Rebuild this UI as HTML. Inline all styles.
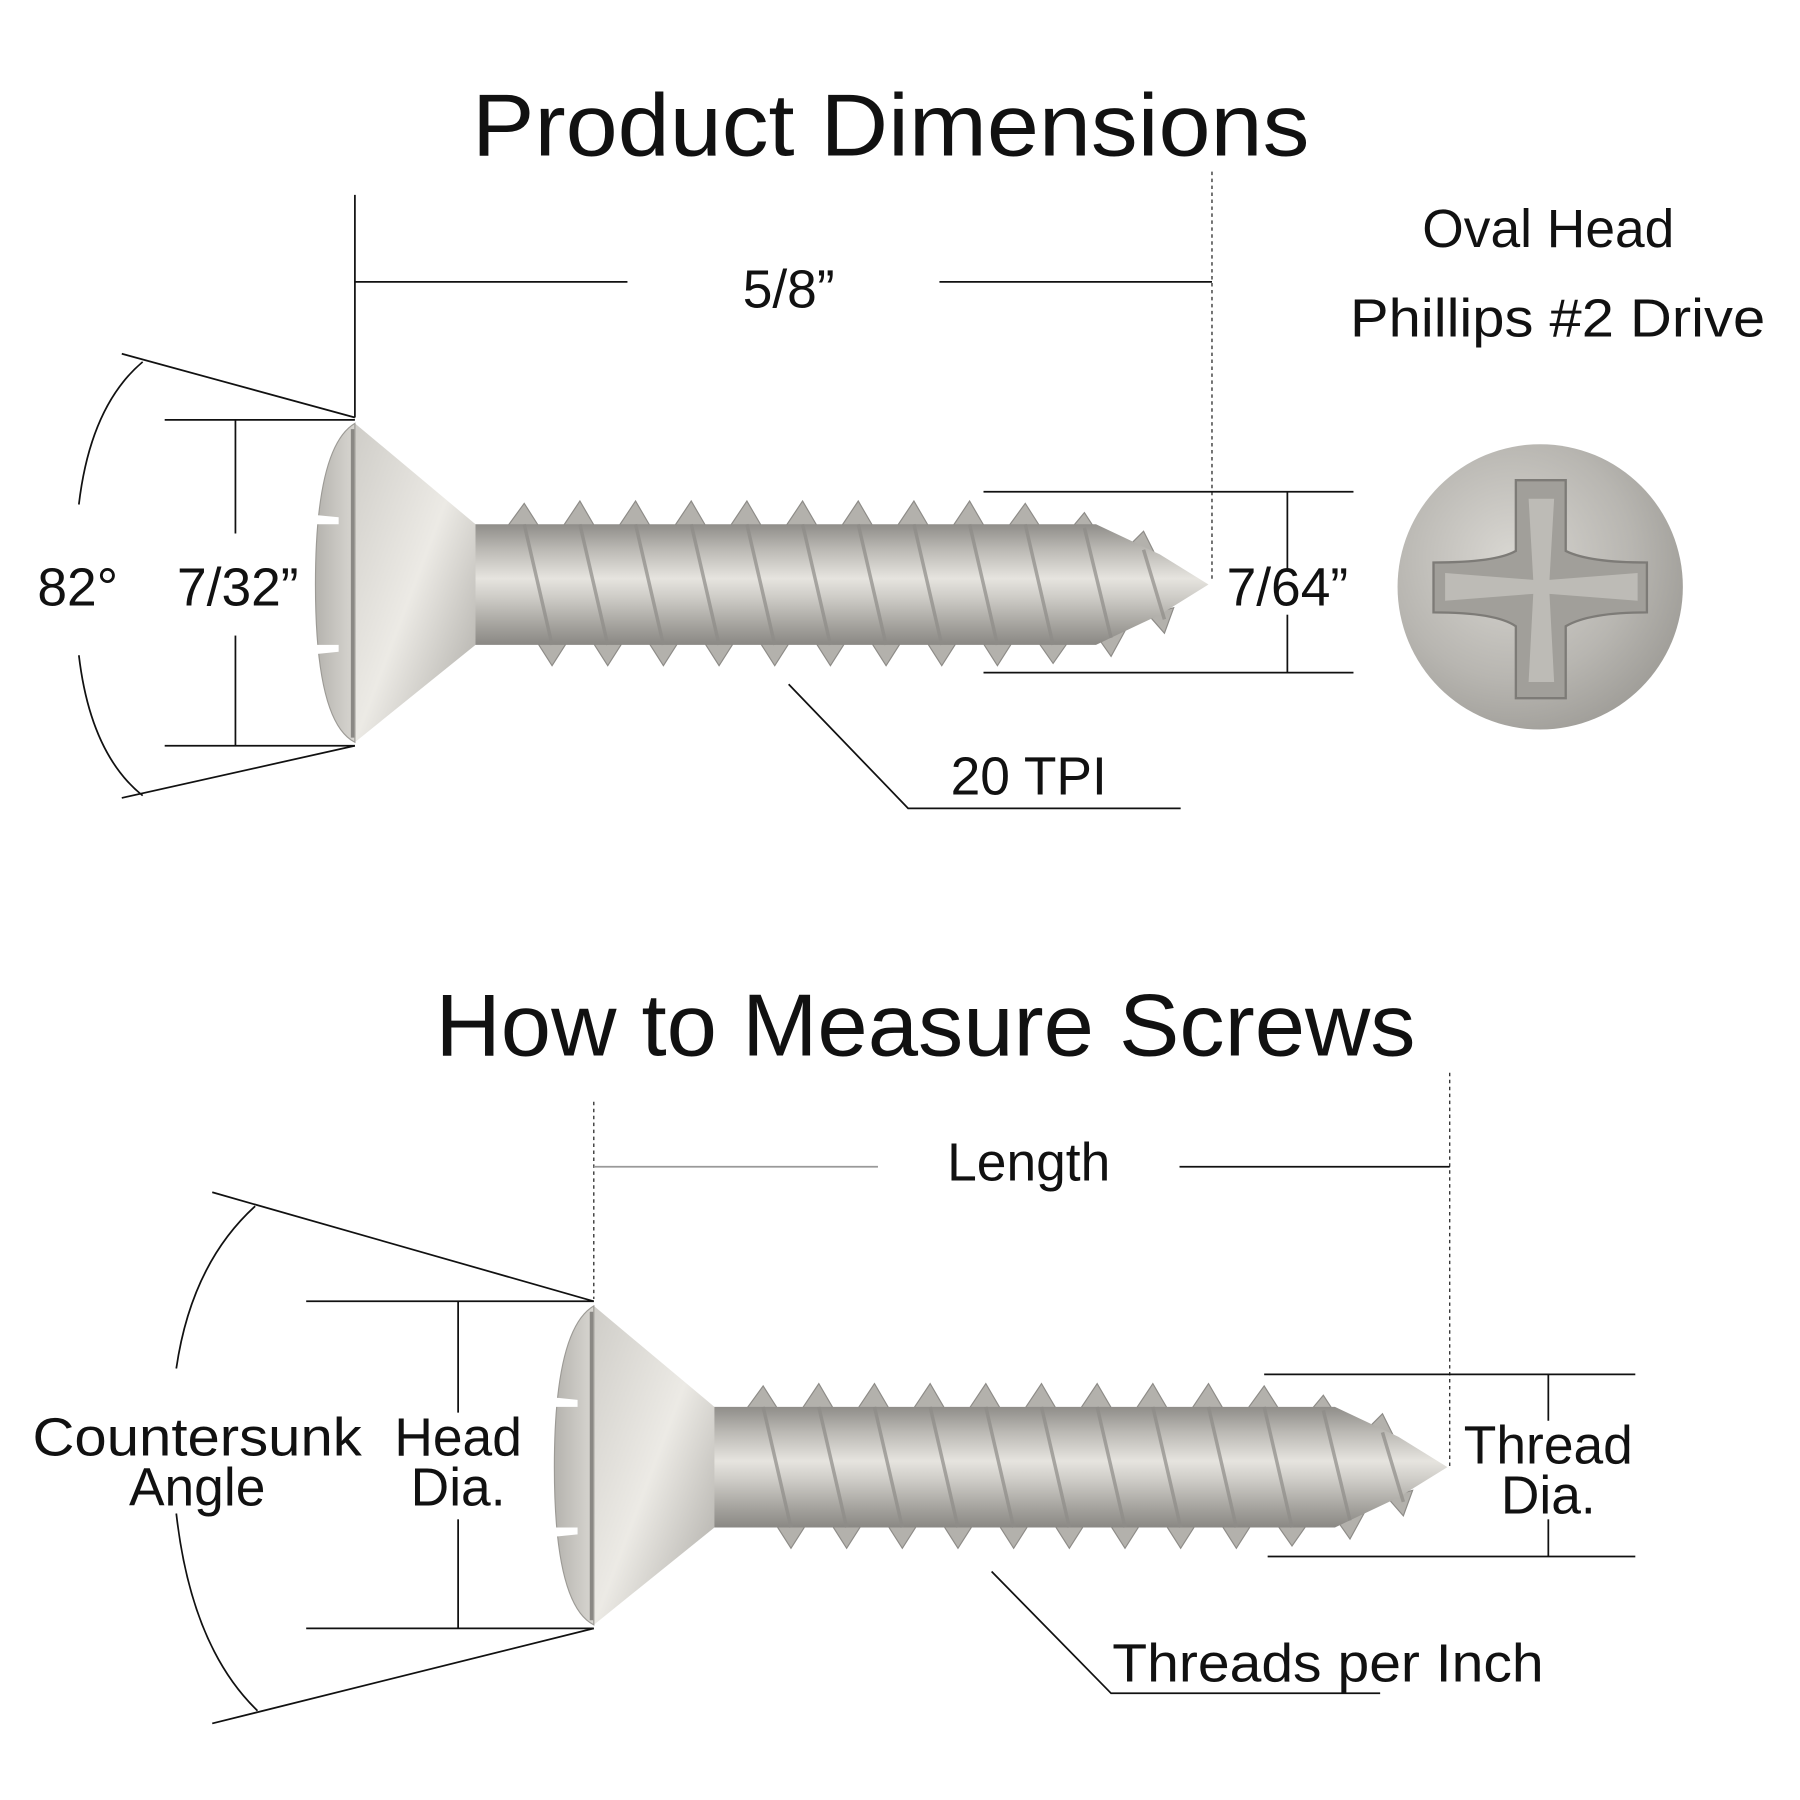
<!DOCTYPE html>
<html><head><meta charset="utf-8"><style>
html,body{margin:0;padding:0;background:#fff;width:1800px;height:1800px;overflow:hidden}
svg{display:block}
text{font-family:"Liberation Sans","DejaVu Sans",sans-serif;fill:#111;text-anchor:middle}
</style></head><body>
<svg width="1800" height="1800" viewBox="0 0 1552 1552" xmlns="http://www.w3.org/2000/svg">
<defs>
<linearGradient id="shank" x1="0" y1="0" x2="0" y2="1">
<stop offset="0" stop-color="#8f8d89"/><stop offset="0.2" stop-color="#b9b7b2"/><stop offset="0.45" stop-color="#e6e4df"/><stop offset="0.6" stop-color="#cfcdc8"/><stop offset="0.85" stop-color="#a3a19c"/><stop offset="1" stop-color="#8a8884"/>
</linearGradient>
<linearGradient id="cone" x1="0" y1="0" x2="1" y2="1">
<stop offset="0" stop-color="#cfcdc8"/><stop offset="0.5" stop-color="#eceae5"/><stop offset="1" stop-color="#a9a7a2"/>
</linearGradient>
<linearGradient id="face" x1="0" y1="0" x2="1" y2="0">
<stop offset="0" stop-color="#b5b3ae"/><stop offset="1" stop-color="#d8d6d1"/>
</linearGradient>
<radialGradient id="disc" cx="0.4" cy="0.4" r="0.7">
<stop offset="0" stop-color="#d9d7d2"/><stop offset="0.6" stop-color="#b8b6b1"/><stop offset="1" stop-color="#9a9893"/>
</radialGradient>
<g id="screw">
<g fill="#b3b1ac" stroke="#8d8b87" stroke-width="1">
<polygon points="436,456 452,434 466,456"/><polygon points="484,456 500,432 514,456"/><polygon points="532,456 548,432 562,456"/><polygon points="580,456 596,432 610,456"/><polygon points="628,456 644,432 658,456"/><polygon points="676,456 692,432 706,456"/><polygon points="724,456 740,432 754,456"/><polygon points="772,456 788,432 802,456"/><polygon points="820,456 836,432 850,456"/><polygon points="868,456 884,434 898,456"/><polygon points="920,460 935,442 948,462"/><polygon points="972,472 986,458 996,478"/>
<polygon points="462,552 476,574 490,552"/><polygon points="510,552 524,574 538,552"/><polygon points="558,552 572,574 586,552"/><polygon points="606,552 620,574 634,552"/><polygon points="654,552 668,574 682,552"/><polygon points="702,552 716,574 730,552"/><polygon points="750,552 764,574 778,552"/><polygon points="798,552 812,574 826,552"/><polygon points="846,552 860,574 874,552"/><polygon points="894,552 908,572 922,552"/><polygon points="944,546 958,566 970,544"/><polygon points="990,530 1004,546 1012,524"/>
</g>
<path d="M405,452 L945,452 L1000,478 L1042,504 L1000,530 L945,556 L405,556 Z" fill="url(#shank)"/>
<g stroke="#8e8c88" stroke-width="3" fill="none" opacity="0.7">
<path d="M452,452 L476,556"/><path d="M500,452 L524,556"/><path d="M548,452 L572,556"/><path d="M596,452 L620,556"/><path d="M644,452 L668,556"/><path d="M692,452 L716,556"/><path d="M740,452 L764,556"/><path d="M788,452 L812,556"/><path d="M836,452 L860,556"/><path d="M884,452 L908,556"/><path d="M935,455 L958,550"/><path d="M986,474 L1004,534"/>
</g>
<path d="M306,365 L410,452 L410,556 L306,640 Z" fill="url(#cone)"/>
<path d="M306,365 Q272,385 272,504 Q272,623 306,640 Z" fill="url(#face)" stroke="#9c9a95" stroke-width="1"/>
<line x1="304" y1="370" x2="304" y2="636" stroke="#8a8884" stroke-width="3"/>
<path d="M272,444 L292,446 L292,452 L272,452 Z M272,556 L292,556 L292,562 L272,564 Z" fill="#fff"/>
</g>
</defs>

<text x="768" y="134" font-size="76" textLength="722" lengthAdjust="spacingAndGlyphs">Product Dimensions</text>
<g stroke="#111" stroke-width="1.5" fill="none">
<line x1="306" y1="168" x2="306" y2="360"/>
<line x1="306" y1="243" x2="541" y2="243"/>
<line x1="810" y1="243" x2="1045" y2="243"/>
<line x1="1045" y1="148" x2="1045" y2="500" stroke-dasharray="3,3" stroke-width="1"/>
<line x1="105" y1="305" x2="306" y2="360"/>
<line x1="105" y1="688" x2="306" y2="643"/>
<path d="M123,312 Q78,350 68,435"/>
<path d="M68,565 Q78,650 123,686"/>
<line x1="142" y1="362" x2="306" y2="362"/>
<line x1="142" y1="643" x2="306" y2="643"/>
<line x1="203" y1="362" x2="203" y2="460"/>
<line x1="203" y1="548" x2="203" y2="643"/>
<line x1="848" y1="424" x2="1167" y2="424"/>
<line x1="848" y1="580" x2="1167" y2="580"/>
<line x1="1110" y1="424" x2="1110" y2="490"/>
<line x1="1110" y1="530" x2="1110" y2="580"/>
<polyline points="680,590 783,697 1018,697"/>
</g>
<text x="680" y="265" font-size="46">5/8”</text>
<text x="1335" y="213" font-size="46">Oval Head</text>
<text x="1343" y="290" font-size="46" textLength="358" lengthAdjust="spacingAndGlyphs">Phillips #2 Drive</text>
<text x="67" y="522" font-size="46">82°</text>
<text x="205" y="522" font-size="46">7/32”</text>
<text x="1110" y="522" font-size="46">7/64”</text>
<text x="887" y="685" font-size="46">20 TPI</text>
<use href="#screw"/>
<circle cx="1328" cy="506" r="123" fill="url(#disc)"/>
<path d="M1307,414 L1350,414 L1350,475 Q1370,485 1420,485 L1420,528 Q1370,528 1350,540 L1350,602 L1307,602 L1307,540 Q1290,528 1236,528 L1236,485 Q1290,485 1307,475 Z" fill="#a19f9a" stroke="#7d7b77" stroke-width="2"/>
<path d="M1318,430 L1340,430 L1336,500 L1412,494 L1412,518 L1336,512 L1340,588 L1318,588 L1322,512 L1246,518 L1246,494 L1322,500 Z" fill="#c9c7c2" opacity="0.7"/>

<text x="798" y="910" font-size="76" textLength="845" lengthAdjust="spacingAndGlyphs">How to Measure Screws</text>
<g stroke="#111" stroke-width="1.5" fill="none">
<line x1="512" y1="950" x2="512" y2="1120" stroke-dasharray="3,3" stroke-width="1"/>
<line x1="1250" y1="925" x2="1250" y2="1265" stroke-dasharray="3,3" stroke-width="1"/>
<line x1="512" y1="1006" x2="757" y2="1006" stroke="#999"/>
<line x1="1017" y1="1006" x2="1250" y2="1006"/>
<line x1="183" y1="1028" x2="512" y2="1122"/>
<line x1="183" y1="1486" x2="512" y2="1404"/>
<path d="M220,1040 Q165,1090 152,1180"/>
<path d="M152,1305 Q165,1420 222,1475"/>
<line x1="264" y1="1122" x2="512" y2="1122"/>
<line x1="264" y1="1404" x2="512" y2="1404"/>
<line x1="395" y1="1122" x2="395" y2="1218"/>
<line x1="395" y1="1310" x2="395" y2="1404"/>
<line x1="1090" y1="1185" x2="1410" y2="1185"/>
<line x1="1093" y1="1342" x2="1410" y2="1342"/>
<line x1="1335" y1="1185" x2="1335" y2="1225"/>
<line x1="1335" y1="1310" x2="1335" y2="1342"/>
<polyline points="855,1355 958,1460 1190,1460"/>
</g>
<text x="887" y="1018" font-size="46">Length</text>
<text x="170" y="1255" font-size="46" textLength="284" lengthAdjust="spacingAndGlyphs">Countersunk</text>
<text x="170" y="1298" font-size="46">Angle</text>
<text x="395" y="1255" font-size="46">Head</text>
<text x="395" y="1298" font-size="46">Dia.</text>
<text x="1335" y="1262" font-size="46">Thread</text>
<text x="1335" y="1305" font-size="46">Dia.</text>
<text x="1145" y="1450" font-size="46" textLength="372" lengthAdjust="spacingAndGlyphs">Threads per Inch</text>
<use href="#screw" transform="translate(206,761)"/>
</svg>
</body></html>
